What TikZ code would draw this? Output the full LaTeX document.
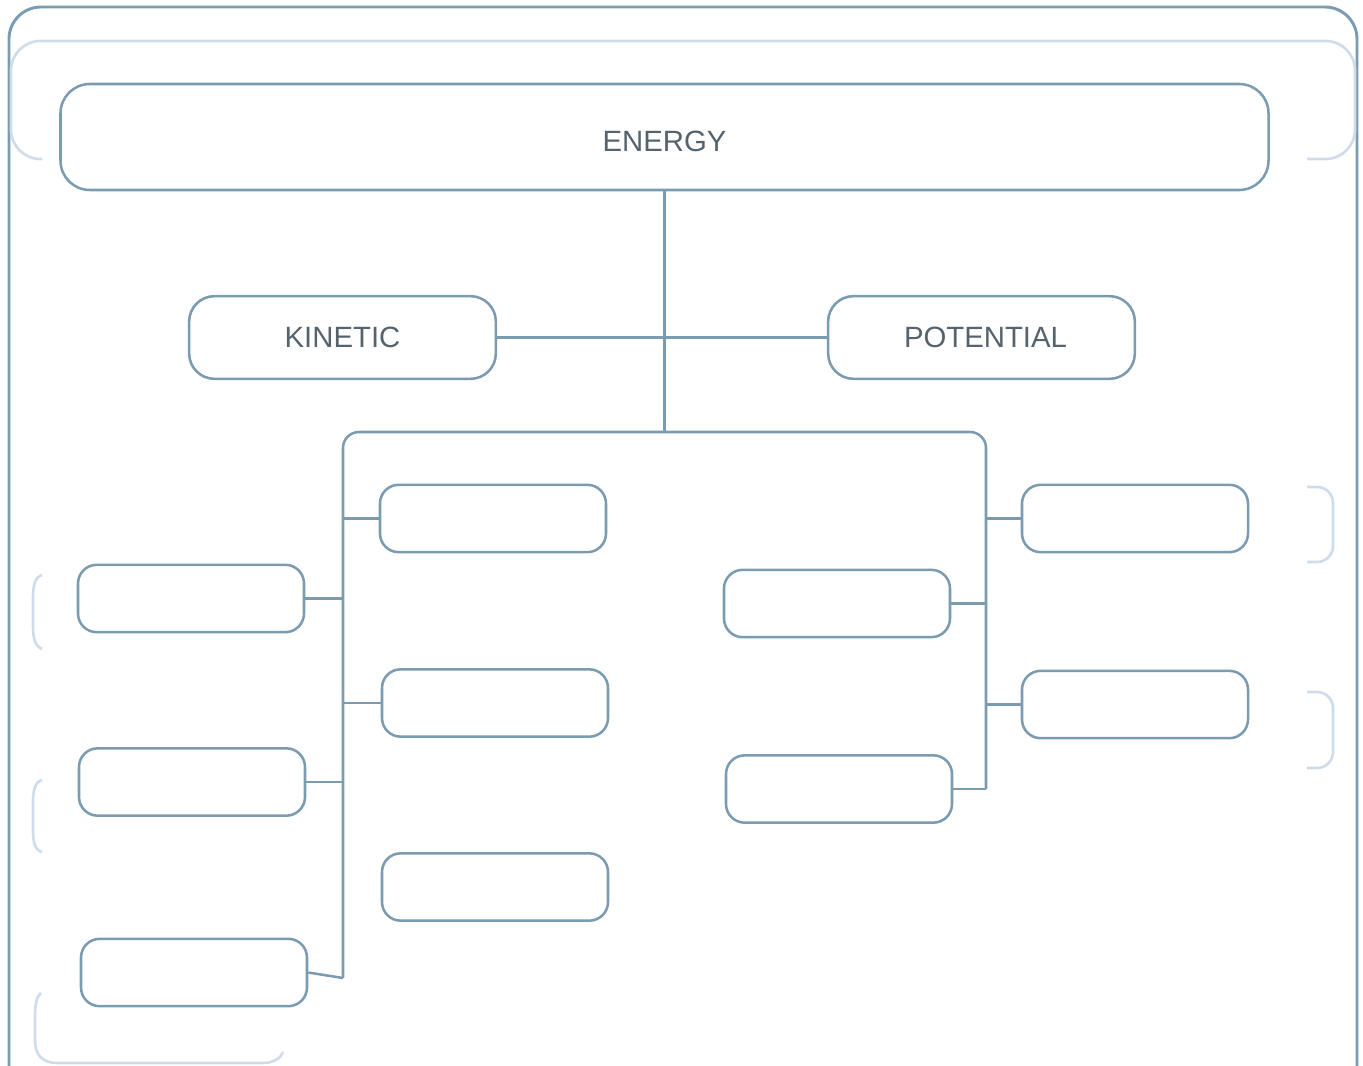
\documentclass[tikz,border=0pt]{standalone}
\usepackage{fontspec}
\setmainfont{Liberation Sans}
\usepackage{tikz}
\usetikzlibrary{calc}

\definecolor{framecol}{HTML}{7B9BB1}
\definecolor{palecol}{HTML}{CFDCEB}
\definecolor{textcol}{HTML}{55636E}

\tikzset{
  mainbox/.style={draw=framecol,line width=1.9pt,rounded corners=22pt,minimum width=906pt,minimum height=79.5pt,font=\fontsize{22}{26}\selectfont,text=textcol,text height=22pt,text depth=0pt,inner sep=0pt},
  typebox/.style={draw=framecol,line width=1.9pt,rounded corners=19pt,minimum width=230pt,minimum height=62pt,font=\fontsize{22}{26}\selectfont,text=textcol,inner sep=0pt},
  blankbox/.style={draw=framecol,line width=1.9pt,rounded corners=14pt,minimum width=169.5pt,minimum height=50.5pt,inner sep=0pt},
  link/.style={draw=framecol,line width=1.9pt},
  pale/.style={draw=palecol,line width=2pt}
}

\begin{document}
\begin{tikzpicture}[x=0.75pt,y=0.75pt,yscale=-1,xscale=1]
\useasboundingbox (0,0) rectangle (1363,1066);

%Shape: outer frame, open at the bottom
\draw[link,line width=2.2pt,rounded corners=24pt] (9,1066) -- (9,7) -- (1357,7) -- (1357,1066);
%Shape: pale frame behind the title
\draw[pale,rounded corners=22pt] (42,159) -- (11,159) -- (11,41) -- (1355,41) -- (1355,159) -- (1307,159);

%Shape: pale brackets on the sides
\draw[pale] (42,575) .. controls (35,577) and (33,585) .. (33,598) -- (33,625) .. controls (33,639) and (35,646) .. (42,649);
\draw[pale] (42,780) .. controls (35,782) and (33,790) .. (33,803) -- (33,829) .. controls (33,843) and (35,850) .. (42,852);
\draw[pale] (41,993) .. controls (36,997) and (35,1005) .. (35,1020) -- (35,1040) .. controls (35,1056) and (43,1063) .. (58,1063) -- (262,1063) .. controls (274,1063) and (281,1058) .. (283,1052);
\draw[pale,rounded corners=12pt] (1307,487) -- (1333,487) -- (1333,562) -- (1307,562);
\draw[pale,rounded corners=12pt] (1307,692) -- (1333,692) -- (1333,768) -- (1307,768);

% Text Node
\node[mainbox] (energy) at (664.5,137) {ENERGY};
% Text Node
\node[typebox] (kinetic) at (342.5,337.5) {KINETIC};
% Text Node
\node[typebox] (potential) at (981.5,337.5) {\hspace{6pt}POTENTIAL};

%Shape: empty boxes, kinetic side
\node[blankbox] (kin1) at (493,518.5) {};
\node[blankbox] (kin2) at (495,703) {};
\node[blankbox] (kin3) at (495,887) {};
\node[blankbox] (kin4) at (191,598.5) {};
\node[blankbox] (kin5) at (192,782) {};
\node[blankbox] (kin6) at (194,972.5) {};
%Shape: empty boxes, potential side
\node[blankbox] (pot1) at (1135,518.5) {};
\node[blankbox] (pot2) at (1135,704.5) {};
\node[blankbox] (pot3) at (837,603.5) {};
\node[blankbox] (pot4) at (839,789) {};

% bracket corners
\coordinate (lefttop) at (343,432);
\coordinate (leftend) at (343,978);
\coordinate (righttop) at (986,432);
\coordinate (rightend) at (986,789);

%Straight Lines
\draw[link] (energy.south) -- (energy.south |- lefttop);
\draw[link] (kinetic.east) -- (potential.west);
\draw[link,rounded corners=12pt] (leftend) -- (lefttop) -- (righttop) -- (rightend);
\draw[link] (kin1.west) -- (kin1.west -| lefttop);
\draw[link] (kin2.west) -- (kin2.west -| lefttop);
\draw[link] (kin4.east) -- (kin4.east -| lefttop);
\draw[link] (kin5.east) -- (kin5.east -| lefttop);
\draw[link] (kin6.east) -- (leftend);
\draw[link] (pot1.west) -- (pot1.west -| righttop);
\draw[link] (pot2.west) -- (pot2.west -| righttop);
\draw[link] (pot3.east) -- (pot3.east -| righttop);
\draw[link] (pot4.east) -- (rightend);

\end{tikzpicture}
\end{document}
